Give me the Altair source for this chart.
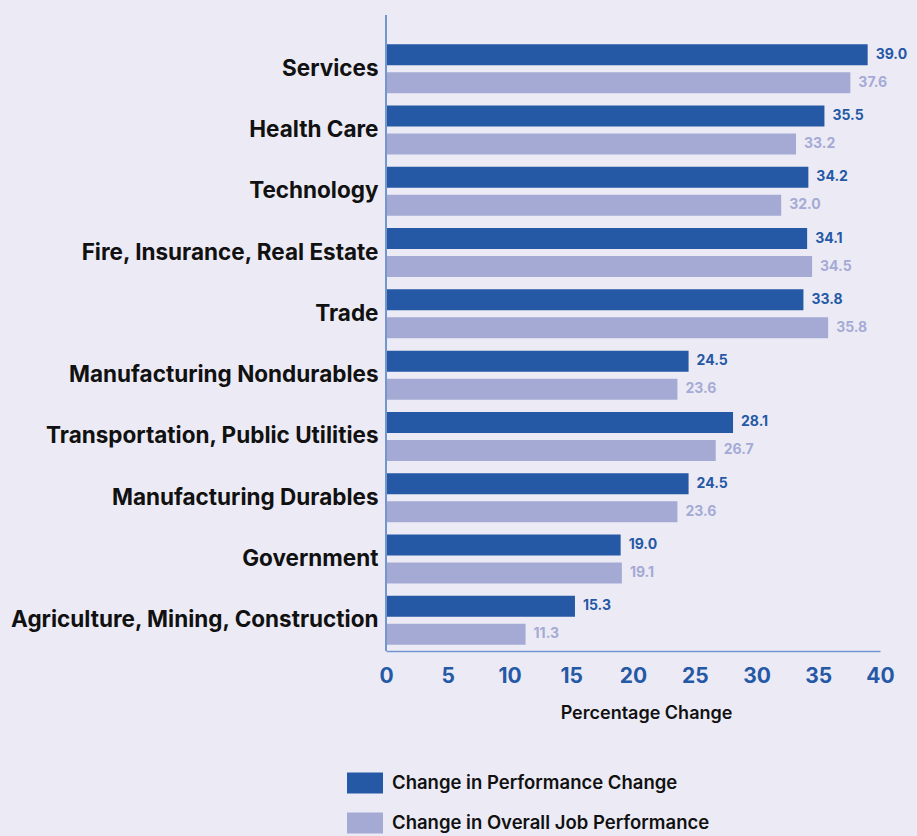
import altair as alt
import pandas as pd

categories = ["Services", "Health Care", "Technology", "Fire, Insurance, Real Estate", "Trade",
              "Manufacturing Nondurables", "Transportation, Public Utilities",
              "Manufacturing Durables", "Government", "Agriculture, Mining, Construction"]
perf_change = [39.0, 35.5, 34.2, 34.1, 33.8, 24.5, 28.1, 24.5, 19.0, 15.3]
overall_job = [37.6, 33.2, 32.0, 34.5, 35.8, 23.6, 26.7, 23.6, 19.1, 11.3]
series = ["Change in Performance Change", "Change in Overall Job Performance"]
x_ticks = [0, 5, 10, 15, 20, 25, 30, 35, 40]

rows = []
for c, a, b in zip(categories, perf_change, overall_job):
    rows.append({"category": c, "series": series[0], "value": a})
    rows.append({"category": c, "series": series[1], "value": b})
df = pd.DataFrame(rows)

DARK = "#2558A5"
LIGHT = "#A5AAD5"
AXIS = "#7396CF"
FONT = "Inter"

y_enc = alt.Y("category:N", sort=categories,
              scale=alt.Scale(paddingInner=0.2, paddingOuter=0.1),
              axis=alt.Axis(title=None, domain=False, ticks=False, labelPadding=8,
                            labelFontSize=22.5, labelFont=FONT, labelFontWeight="bold",
                            labelColor="#111111", labelLimit=500))
yoff = alt.YOffset("series:N", sort=series, scale=alt.Scale(paddingInner=0.25, paddingOuter=0))
x_enc = alt.X("value:Q", scale=alt.Scale(domain=[0, 40], nice=False),
              axis=alt.Axis(values=x_ticks, title="Percentage Change", grid=False, ticks=False,
                            domainColor=AXIS, domainWidth=1.5, labelPadding=14,
                            labelFlush=False,
                            labelFontSize=21, labelFont=FONT, labelFontWeight="bold",
                            labelColor=DARK, titleFont=FONT, titleFontSize=18,
                            titleFontWeight=600, titleColor="#111111", titlePadding=18,
                            titleX=260))
color = alt.Color("series:N", sort=series,
                  scale=alt.Scale(domain=series, range=[DARK, LIGHT]),
                  legend=alt.Legend(title=None, orient="none", legendX=-39, legendY=727,
                                    direction="vertical", padding=0,
                                    symbolType="M-1,-0.58H1V0.58H-1Z", symbolSize=1296,
                                    symbolStrokeWidth=0, symbolOpacity=1,
                                    labelFont=FONT, labelFontSize=18.5, labelFontWeight=600,
                                    labelColor="#111111", labelOffset=9, rowPadding=11,
                                    labelLimit=500))

bars = alt.Chart(df).mark_bar(size=21).encode(y=y_enc, yOffset=yoff, x=x_enc, color=color)
labels = alt.Chart(df).mark_text(align="left", baseline="middle", dx=8, fontSize=14,
                                 fontWeight="bold", font=FONT).encode(
    y=alt.Y("category:N", sort=categories), yOffset=yoff, x=alt.X("value:Q"),
    text=alt.Text("value:Q", format=".1f"), color=alt.Color("series:N", sort=series))
yline = alt.Chart(df).mark_rule(color=AXIS, strokeWidth=1.5).encode(
    x=alt.value(0), y=alt.value(-23), y2=alt.value(613))

chart = alt.layer(bars, labels, yline).properties(
    width=494, height=613,
    background="#ECEBF5",
    padding={"left": 386, "top": 38, "right": 37, "bottom": 185},
    autosize=alt.AutoSizeParams(type="none"),
).configure_view(stroke=None)

chart.save("out.html", embed_options={"renderer": "svg", "actions": False})
